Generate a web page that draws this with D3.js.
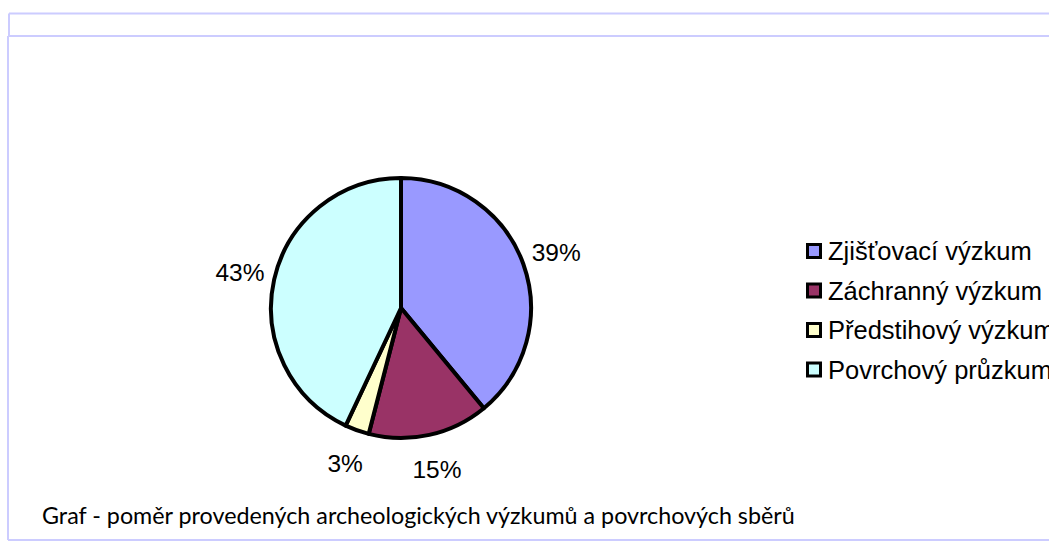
<!DOCTYPE html>
<html><head><meta charset="utf-8">
<script src="https://cdn.jsdelivr.net/npm/d3@7"></script>
<style>html,body{margin:0;padding:0;background:#fff;overflow:hidden}</style>
</head><body>
<svg id="c" width="1049" height="555"></svg>
<script>
const categories = ["Zjišťovací výzkum", "Záchranný výzkum", "Předstihový výzkum", "Povrchový průzkum"];
const values = [39, 15, 3, 43];
const colors = ["#9999ff", "#993366", "#ffffcc", "#ccffff"];
const caption = "Graf - poměr provedených archeologických výzkumů a povrchových sběrů";

const svg = d3.select("#c");
const frame = "#ccccff";
const fl = [[9,13.5,1049,13.5],[9,13.5,9,36],[8,36,1049,36],[8,36,8,540],[8,540,1049,540]];
svg.selectAll("line.f").data(fl).enter().append("line")
  .attr("x1",d=>d[0]).attr("y1",d=>d[1]).attr("x2",d=>d[2]).attr("y2",d=>d[3])
  .attr("stroke",frame).attr("stroke-width",2);

const cx = 401, cy = 308, r = 130;
const pie = d3.pie().sort(null).value(d=>d)(values);
const arc = d3.arc().innerRadius(0).outerRadius(r);
const g = svg.append("g").attr("transform",`translate(${cx},${cy})`);
g.selectAll("path").data(pie).enter().append("path")
  .attr("d",arc).attr("fill",(d,i)=>colors[i])
  .attr("stroke","#000").attr("stroke-width",4).attr("stroke-linejoin","round");

const lab = d3.arc().innerRadius(165).outerRadius(165);
g.selectAll("text").data(pie).enter().append("text")
  .attr("transform",d=>`translate(${lab.centroid(d)})`)
  .attr("text-anchor","middle").attr("dy","0.36em")
  .attr("font-family","Liberation Sans, Arial, sans-serif").attr("font-size",24.5)
  .attr("fill","#000")
  .text(d=>d3.format(".0%")(d.data/100));

const lg = svg.append("g");
const leg = lg.selectAll("g").data(categories).enter().append("g")
  .attr("transform",(d,i)=>`translate(806,${251+i*39.5})`);
leg.append("rect").attr("x",1.5).attr("y",-6.5).attr("width",13).attr("height",13)
  .attr("fill",(d,i)=>colors[i]).attr("stroke","#000").attr("stroke-width",3);
leg.append("text").attr("x",22).attr("y",9)
  .attr("font-family","Liberation Sans, Arial, sans-serif").attr("font-size",25.5)
  .text(d=>d);

const cap = svg.append("text").attr("x",42).attr("y",524)
  .attr("font-family","Lato, sans-serif").attr("font-size",20).text(caption);
const w = cap.node().getComputedTextLength();
cap.attr("font-size", 20*753/w);
</script>
</body></html>
